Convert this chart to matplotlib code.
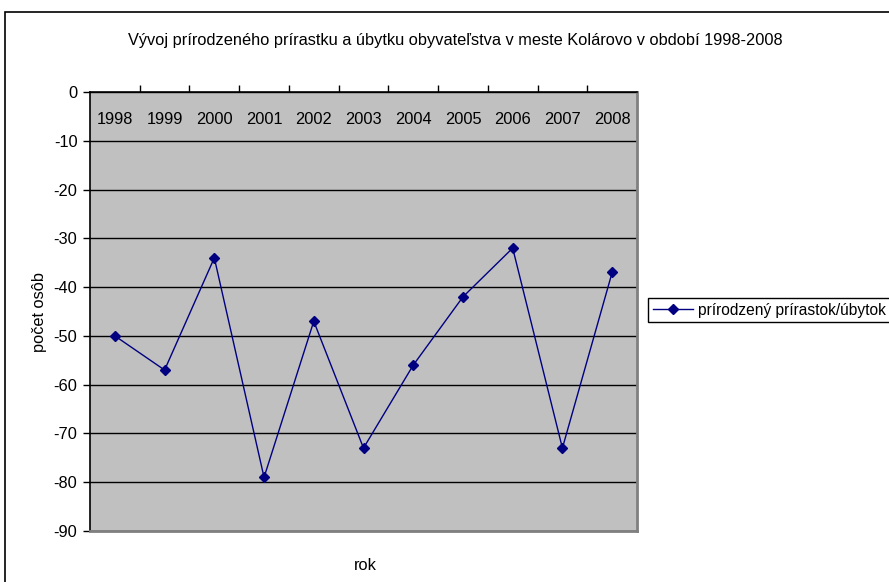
import matplotlib.pyplot as plt
from matplotlib.patches import Rectangle

years = ["1998", "1999", "2000", "2001", "2002", "2003", "2004", "2005", "2006", "2007", "2008"]
values = [-50, -57, -34, -79, -47, -73, -56, -42, -32, -73, -37]
yticks = [0, -10, -20, -30, -40, -50, -60, -70, -80, -90]

plt.rcParams['font.family'] = ['Liberation Sans', 'DejaVu Sans']
fs = 11.8

W, H = 889, 582
fig = plt.figure(figsize=(W / 100, H / 100), dpi=100)
fig.patch.set_facecolor('white')

# outer chart border (cut off on right and bottom like the original)
fig.patches.append(Rectangle((5 / W, -0.1), 1.2, 0.1 + (H - 12) / H,
                             transform=fig.transFigure, fill=False,
                             edgecolor='black', linewidth=1.2))

ax = fig.add_axes([90 / W, (H - 531) / H, (637 - 90) / W, (531 - 92) / H])
ax.set_facecolor('#c0c0c0')

x = list(range(len(years)))
ax.plot(x, values, color='#000080', marker='D', markersize=5, linewidth=1,
        label='prírodzený prírastok/úbytok')

ax.set_xlim(-0.5, len(years) - 0.5)
ax.set_ylim(-90, 0)
ax.set_yticks(yticks)
ax.set_yticklabels([str(v) for v in yticks], fontsize=fs)
ax.yaxis.grid(True, color='black', linewidth=1)
ax.set_axisbelow(True)
ax.tick_params(axis='y', direction='out', length=5, width=1, pad=4)

ax.xaxis.tick_top()
ax.set_xticks(x)
ax.set_xticklabels(years, fontsize=fs)
ax.set_xticks([i - 0.5 for i in range(1, len(years))], minor=True)
ax.tick_params(axis='x', which='major', length=0, pad=-25)
ax.tick_params(axis='x', which='minor', direction='out', length=5, width=1, top=True, bottom=False)

for side in ['left', 'top']:
    ax.spines[side].set_color('black')
    ax.spines[side].set_linewidth(1.2)
for side in ['right', 'bottom']:
    ax.spines[side].set_color('#808080')
    ax.spines[side].set_linewidth(2)

ax.set_ylabel('počet osôb', fontsize=fs, labelpad=5)
fig.text(365 / W, 1 - 565 / H, 'rok', ha='center', va='center', fontsize=fs)
fig.text(455 / W, 1 - 40 / H, 'Vývoj prírodzeného prírastku a úbytku obyvateľstva v meste Kolárovo v období 1998-2008',
         ha='center', va='center', fontsize=fs)

leg = ax.legend(loc='upper left', bbox_to_anchor=(648 / W, 1 - 298 / H),
                bbox_transform=fig.transFigure, frameon=True, fancybox=False,
                edgecolor='black', framealpha=1, fontsize=11.2, handlelength=2.6,
                borderpad=0.3, handletextpad=0.3, borderaxespad=0)
leg.get_frame().set_linewidth(1)

fig.savefig('out.png', dpi=100)
